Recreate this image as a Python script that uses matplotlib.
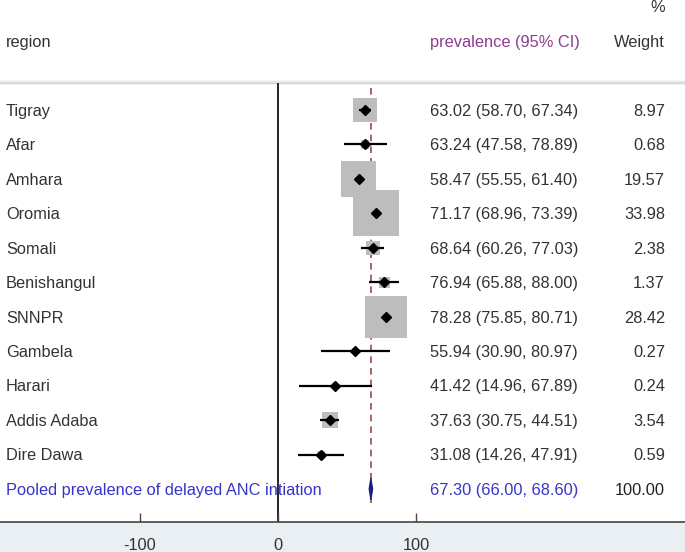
import matplotlib.pyplot as plt
from matplotlib.patches import Polygon
from matplotlib.transforms import blended_transform_factory
import numpy as np

plt.rcParams['font.family'] = ['Liberation Sans', 'DejaVu Sans']

regions = ["Tigray", "Afar", "Amhara", "Oromia", "Somali", "Benishangul", "SNNPR",
           "Gambela", "Harari", "Addis Adaba", "Dire Dawa"]
est = [63.02, 63.24, 58.47, 71.17, 68.64, 76.94, 78.28, 55.94, 41.42, 37.63, 31.08]
lo = [58.70, 47.58, 55.55, 68.96, 60.26, 65.88, 75.85, 30.90, 14.96, 30.75, 14.26]
hi = [67.34, 78.89, 61.40, 73.39, 77.03, 88.00, 80.71, 80.97, 67.89, 44.51, 47.91]
weights = [8.97, 0.68, 19.57, 33.98, 2.38, 1.37, 28.42, 0.27, 0.24, 3.54, 0.59]

pooled_label = "Pooled prevalence of delayed ANC intiation"
pooled_est, pooled_lo, pooled_hi, pooled_w = 67.30, 66.00, 68.60, 100.00

xticks = [-100, 0, 100]

W, H = 685, 552
fig = plt.figure(figsize=(W / 100, H / 100), dpi=100)

# pixel -> data helpers
px_per_unit = 1.38
x0_px = 278
xlim = (-x0_px / px_per_unit, (W - x0_px) / px_per_unit)
row0_px, row_step = 110, 34.45
def row(px):
    return (px - row0_px) / row_step

axis_px = 522
ax = fig.add_axes([0, (H - axis_px) / H, 1, axis_px / H])
ax.set_xlim(*xlim)
ax.set_ylim(row(axis_px), row(0))
ax.axis('off')

n = len(regions)
ys = np.arange(n)
tx = blended_transform_factory(ax.transAxes, ax.transData)
fs = 11.8
toff = 0.04  # small downward nudge for text

# header
ax.text(665 / W, row(7), "%", transform=tx, ha='right', va='center', fontsize=fs, color='#333333')
ax.text(6 / W, row(42), "region", transform=tx, ha='left', va='center', fontsize=fs, color='#333333')
ax.text(430 / W, row(42), "prevalence (95% CI)", transform=tx, ha='left', va='center', fontsize=fs, color='#8e3a8e')
ax.text(665 / W, row(42), "Weight", transform=tx, ha='right', va='center', fontsize=fs, color='#333333')
ax.axhline(row(82), color='#e6e6e6', lw=2.5)
ax.axhline(row(83), color='#d4d4d4', lw=1.0)

# null line and pooled line
ax.plot([0, 0], [row(84), row(axis_px)], color='black', lw=1.2)
ax.plot([pooled_est, pooled_est], [row(88), row(505)], color='#9b4a4a', lw=1.2, ls=(0, (4, 3)))

# weight squares
side_pt = (7.5 * np.sqrt(np.array(weights)) + 2.2) * 0.72
ax.scatter(est, ys, s=side_pt ** 2, marker='s', color='#bdbdbd', linewidths=0, zorder=2)
ax.hlines(ys, lo, hi, color='black', lw=1.6, zorder=3)
ax.plot(est, ys, 'D', color='black', ms=5, zorder=4)

# study rows text
for i in range(n):
    ax.text(6 / W, ys[i] + toff, regions[i], transform=tx, ha='left', va='center', fontsize=fs, color='#333333')
    ax.text(430 / W, ys[i] + toff, f"{est[i]:.2f} ({lo[i]:.2f}, {hi[i]:.2f})", transform=tx,
            ha='left', va='center', fontsize=fs, color='#333333')
    ax.text(665 / W, ys[i] + toff, f"{weights[i]:.2f}", transform=tx, ha='right', va='center',
            fontsize=fs, color='#333333')

# pooled row
yp = n
dh = 0.32
ax.add_patch(Polygon([[pooled_lo, yp], [pooled_est, yp - dh], [pooled_hi, yp], [pooled_est, yp + dh]],
                     closed=True, facecolor='#1c1c7a', edgecolor='#1c1c7a', lw=0.8, zorder=4))
ax.text(6 / W, yp + toff, pooled_label, transform=tx, ha='left', va='center', fontsize=fs, color='#3535c8')
ax.text(430 / W, yp + toff, f"{pooled_est:.2f} ({pooled_lo:.2f}, {pooled_hi:.2f})", transform=tx,
        ha='left', va='center', fontsize=fs, color='#3535c8')
ax.text(665 / W, yp + toff, f"{pooled_w:.2f}", transform=tx, ha='right', va='center', fontsize=fs, color='#222222')

# bottom axis
ax2 = fig.add_axes([0, 0, 1, (H - axis_px) / H])
ax2.set_facecolor('#e9eff3')
ax2.set_xlim(*xlim)
ax2.set_ylim(0, 1)
for s in ['left', 'right', 'bottom']:
    ax2.spines[s].set_visible(False)
ax2.spines['top'].set_color('#444444')
ax2.spines['top'].set_linewidth(1.2)
ax2.xaxis.set_ticks_position('top')
ax2.set_xticks(xticks)
ax2.tick_params(axis='x', direction='out', length=6.5, width=1.0, color='#444444', labeltop=False)
ax2.set_yticks([])
for t in xticks:
    ax2.text(t, 0.2, str(t), ha='center', va='center', fontsize=fs, color='#333333')

fig.savefig("out.png", dpi=100)
